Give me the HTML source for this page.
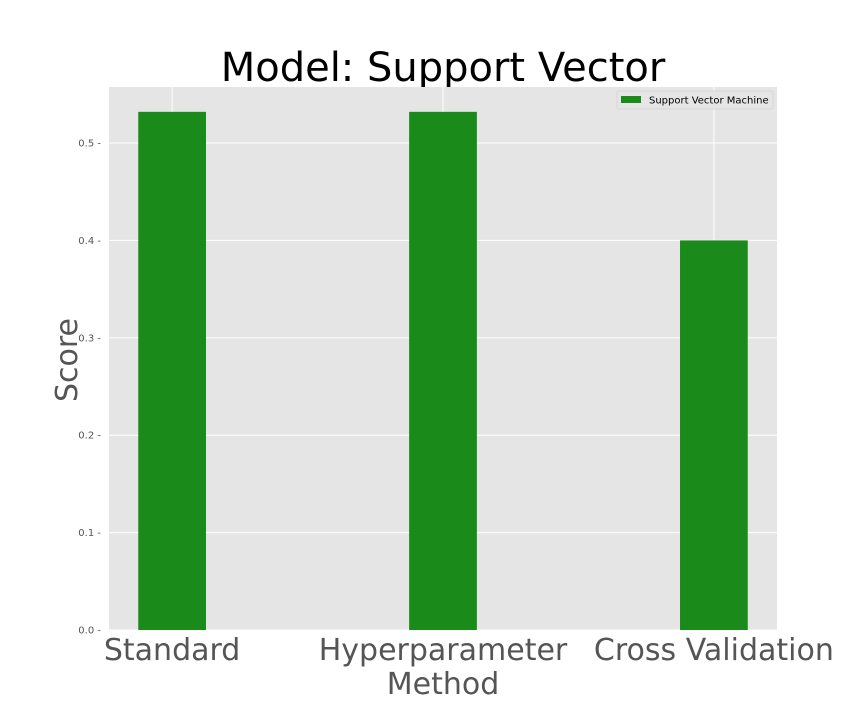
<!DOCTYPE html>
<html><head><meta charset="utf-8"><style>
body{margin:0;background:#fff;}
svg text{font-family:"DejaVu Sans","Liberation Sans",sans-serif;}
</style></head><body>
<svg id="chart" width="864" height="720" xmlns="http://www.w3.org/2000/svg">
<rect x="0" y="0" width="864" height="720" fill="#fff"/>
<text x="443" y="81" font-size="40" text-anchor="middle" fill="#000">Model: Support Vector</text>
<rect x="109" y="87" width="668" height="543" fill="#e5e5e5"/>
<g id="grid"></g>
<g id="bars"></g>
<g id="ticks"></g>
<text transform="translate(77,360) rotate(-90)" font-size="30" text-anchor="middle" fill="#555">Score</text>
<text x="443" y="694" font-size="30" text-anchor="middle" fill="#555">Method</text>
<g>
<rect x="617" y="91" width="156" height="18" fill="#e5e5e5" stroke="#d8d8d8" rx="2"/>
<rect x="621" y="96" width="20" height="7" fill="#1a8a1a"/>
<text x="649" y="103.5" font-size="10" fill="#000">Support Vector Machine</text>
</g>
</svg>
<script>
const categories=["Standard","Hyperparameter","Cross Validation"];
const scores=[0.532,0.532,0.400];
const yTicks=[0.0,0.1,0.2,0.3,0.4,0.5];
const yTickLabels=["0.0","0.1","0.2","0.3","0.4","0.5"];
const NS="http://www.w3.org/2000/svg";
const X0=109,X1=777,Y0=630,Y1=87,xmin=-0.233,xmax=2.233,ymin=0,ymax=0.5575;
const xs=v=>X0+(v-xmin)/(xmax-xmin)*(X1-X0);
const ys=v=>Y0-(v-ymin)/(ymax-ymin)*(Y0-Y1);
function mk(t,a,p){const e=document.createElementNS(NS,t);for(const k in a)e.setAttribute(k,a[k]);p.appendChild(e);return e;}
const grid=document.getElementById('grid'),bars=document.getElementById('bars'),ticks=document.getElementById('ticks');
yTicks.forEach((v,i)=>{
  const l=mk('line',{x1:X0,x2:X1,y1:ys(v),y2:ys(v),stroke:'#fff','stroke-width':1},grid);
  
  
  const t=mk('text',{x:X0-8,y:ys(v)+3.5,'font-size':10,'text-anchor':'end',fill:'#555'},ticks);
  t.textContent=yTickLabels[i]+' -';
  
  
});
categories.forEach((c,i)=>{
  const l=mk('line',{x1:xs(i),x2:xs(i),y1:Y1,y2:Y0,stroke:'#fff','stroke-width':1},grid);
  
  
  const w=xs(0.125)-xs(-0.125);
  const r=mk('rect',{x:xs(i)-w/2,y:ys(scores[i]),width:w,height:ys(0)-ys(scores[i]),fill:'#1a8a1a'},bars);
  
  
  const t=mk('text',{x:xs(i),y:660,'font-size':30,'text-anchor':'middle',fill:'#555'},ticks);
  t.textContent=c;
  
  
});
</script>
</body></html>
